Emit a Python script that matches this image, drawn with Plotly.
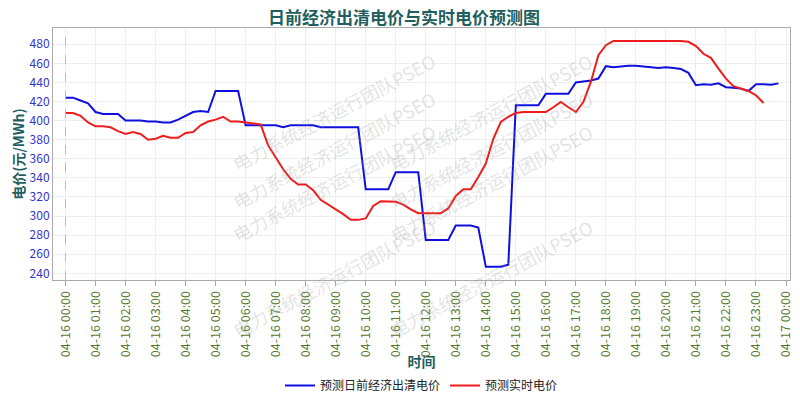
import plotly.graph_objects as go
import pandas as pd

times = pd.date_range("2024-04-16 00:00", periods=96, freq="15min")
day_ahead = [424,424,421,418,409,407,407,407,400,400,400,399,399,398,398,401,
             405,409,410,409,431,431,431,431,395,395,395,395,395,393,395,395,
             395,395,393,393,393,393,393,393,328,328,328,328,346,346,346,346,
             275,275,275,275,290,290,290,288,247,247,247,249,416,416,416,416,
             428,428,428,428,440,441,442,444,457,456,457,457.5,457.5,457,456,455,
             456,455,454,450,437,438,437.5,439,435,434.5,433.5,431,438,438,437.5,439]
realtime = [408,408,405,398,394,394,393,389,386,388,386,380,381,384,382,382,
            387,388,395,399,401,404,399,399,398,397,396,374,362,349,339,333,
            333,327,317,312,307,302,296,296,297.5,310.5,315.5,315.5,315,312,307,303,
            303,303,303,308,321,328,328,341,355,381,398.6,404,408,409,
            409,409,409,414,419.5,414,409,419.5,440.5,468.5,479,483.5,483.5,483.5,483.5,483.5,
            483.5,483.5,483.5,483.5,483.5,482.5,478,470,465.7,454.5,444,436,433.5,431,426.5,418.5]
tick_times = pd.date_range("2024-04-16 00:00", periods=25, freq="1h")
tick_labels = [t.strftime("%m-%d %H:%M") for t in tick_times]

fig = go.Figure()
fig.add_trace(go.Scatter(x=times, y=day_ahead, mode="lines", name="预测日前经济出清电价",
                         line=dict(color="#1010dd", width=2)))
fig.add_trace(go.Scatter(x=times, y=realtime, mode="lines", name="预测实时电价",
                         line=dict(color="#ee1c1c", width=2)))

wm = "电力系统经济运行团队PSEO"
for (px, py) in [(225, 45), (225, 150), (225, 250), (225, 345), (600, 45), (600, 150), (600, 250), (600, 345)]:
    fig.add_annotation(text=wm, xref="paper", yref="paper", x=(px - 53) / 737, y=(280 - py) / 252,
                       showarrow=False, textangle=-28,
                       font=dict(size=18, color="rgba(160,160,160,0.3)", family="Noto Sans CJK SC"))

fig.add_vline(x=times[0], line=dict(color="#bbbbbb", dash="dash", width=1))

fig.update_layout(
    width=792, height=392, plot_bgcolor="white", paper_bgcolor="white",
    margin=dict(l=45, r=10, t=20, b=120, autoexpand=False),
    font=dict(family="Noto Sans CJK SC"),
    title=dict(text="<b>日前经济出清电价与实时电价预测图</b>", x=0.5, y=0.99, yanchor="top",
               font=dict(size=17, color="#1f5f5f")),
    showlegend=True,
    legend=dict(orientation="h", x=0.5, xanchor="center", yref="container", y=0.0, yanchor="bottom",
                font=dict(size=12, color="#222")),
    xaxis=dict(range=[pd.Timestamp("2024-04-15 23:35"), pd.Timestamp("2024-04-17 00:08")],
               tickvals=tick_times, ticktext=tick_labels, tickangle=-90,
               tickfont=dict(size=12.5, color="#557a2f"), showgrid=True, gridcolor="#eeeeee",
               linecolor="#aaaaaa", mirror=True, showline=True, ticks="outside", tickcolor="#aaaaaa",
               title=dict(text="<b>时间</b>", font=dict(size=14, color="#1f5f5f"), standoff=0)),
    yaxis=dict(range=[233, 497], tickvals=list(range(240, 481, 20)), tickfont=dict(size=12, color="#3333cc"),
               showgrid=True, gridcolor="#eeeeee", linecolor="#aaaaaa", mirror=True, showline=True,
               title=dict(text="<b>电价(元/MWh)</b>", font=dict(size=14, color="#1f5f5f"), standoff=4)),
)
fig.write_html("out.html")
